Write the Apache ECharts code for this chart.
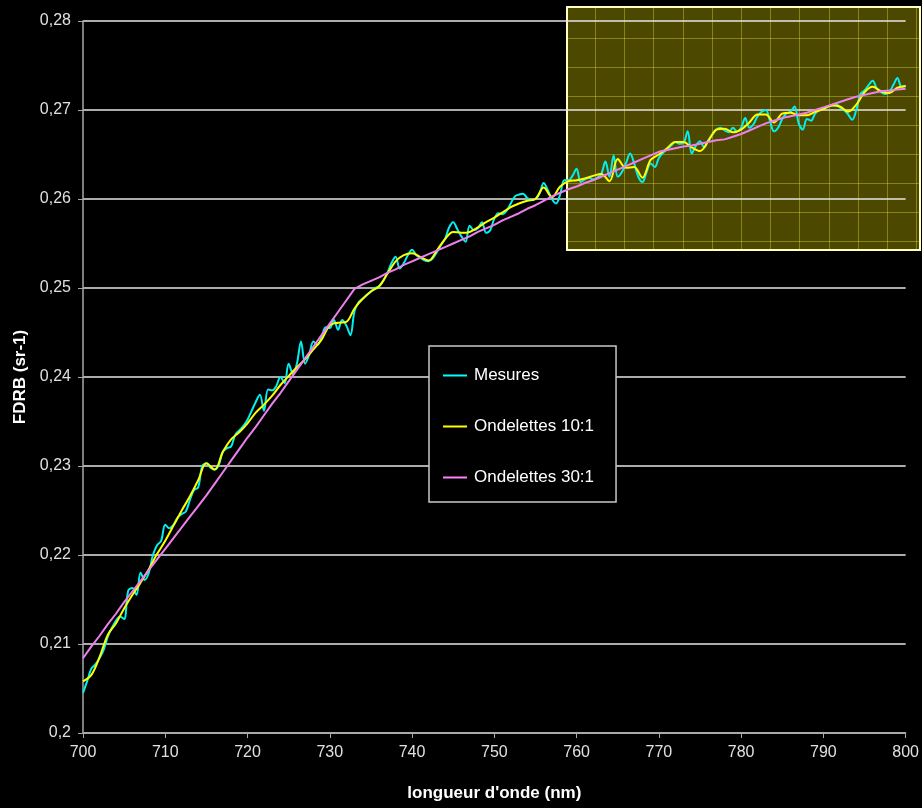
<!DOCTYPE html>
<html>
<head>
<meta charset="utf-8">
<script src="https://cdn.jsdelivr.net/npm/echarts@6/dist/echarts.min.js"></script>
<style>
html,body{margin:0;padding:0;background:#000;}
#c{width:922px;height:808px;}
</style>
</head>
<body>
<div id="c"></div>
<script>
// ---- Data ----
const seriesNames = ['Mesures', 'Ondelettes 10:1', 'Ondelettes 30:1'];
const xTicks = [700, 710, 720, 730, 740, 750, 760, 770, 780, 790, 800];
const yTicks = [0.20, 0.21, 0.22, 0.23, 0.24, 0.25, 0.26, 0.27, 0.28];

// wavelengths (nm) for Mesures: 700 .. 800 step 0.5
const wlMesures = [];
for (let i = 0; i <= 200; i++) wlMesures.push(700 + i * 0.5);
const mesures = [
0.2045,0.2058,0.2072,0.2077,0.2084,0.2093,0.2108,0.2118,0.2126,0.2131,
0.2128,0.2160,0.2163,0.2155,0.2180,0.2172,0.2180,0.2200,0.2211,0.2216,
0.2234,0.2230,0.2234,0.2242,0.2246,0.2249,0.2262,0.2273,0.2276,0.2300,
0.2303,0.2298,0.2296,0.2301,0.2316,0.2320,0.2322,0.2335,0.2340,0.2345,
0.2352,0.2362,0.2372,0.2380,0.2362,0.2386,0.2385,0.2390,0.2400,0.2393,
0.2415,0.2404,0.2415,0.2440,0.2415,0.2425,0.2440,0.2436,0.2445,0.2456,
0.2455,0.2464,0.2453,0.2464,0.2458,0.2447,0.2474,0.2484,0.2488,0.2492,
0.2496,0.2500,0.2502,0.2508,0.2517,0.2528,0.2535,0.2522,0.2528,0.2537,
0.2543,0.2537,0.2534,0.2531,0.2530,0.2533,0.2540,0.2548,0.2555,0.2568,
0.2574,0.2566,0.2558,0.2552,0.2570,0.2565,0.2567,0.2574,0.2562,0.2565,
0.2578,0.2584,0.2583,0.2587,0.2595,0.2603,0.2605,0.2606,0.2601,0.2599,
0.2600,0.2606,0.2618,0.2610,0.2600,0.2595,0.2605,0.2621,0.2621,0.2626,
0.2634,0.2619,0.2622,0.2624,0.2622,0.2624,0.2628,0.2642,0.2625,0.2649,
0.2625,0.2630,0.2640,0.2651,0.2640,0.2625,0.2619,0.2630,0.2640,0.2636,
0.2646,0.2652,0.2656,0.2660,0.2664,0.2662,0.2663,0.2676,0.2651,0.2660,
0.2665,0.2658,0.2666,0.2672,0.2678,0.2680,0.2677,0.2675,0.2680,0.2676,
0.2680,0.2691,0.2680,0.2684,0.2693,0.2698,0.2700,0.2688,0.2676,0.2680,
0.2690,0.2696,0.2698,0.2704,0.2685,0.2678,0.2690,0.2688,0.2696,0.2700,
0.2702,0.2704,0.2705,0.2707,0.2703,0.2700,0.2695,0.2689,0.2700,0.2718,
0.2722,0.2728,0.2733,0.2724,0.2720,0.2718,0.2720,0.2728,0.2736,0.2726,
0.2727
];

// wavelengths (nm) for wavelet series: 700 .. 800 step 1
const wlOnd = [];
for (let i = 0; i <= 100; i++) wlOnd.push(700 + i);
const ond10 = [
0.2058,0.2065,0.2085,0.2110,0.2123,0.2140,0.2155,0.2169,0.2184,0.2201,
0.2216,0.2233,0.2250,0.2266,0.2284,0.2303,0.2296,0.2316,0.2330,0.2338,
0.2348,0.2360,0.2369,0.2379,0.2391,0.2401,0.2411,0.2420,0.2431,0.2442,
0.2458,0.2461,0.2462,0.2477,0.2488,0.2496,0.2502,0.2516,0.2530,0.2537,
0.2539,0.2535,0.2531,0.2542,0.2555,0.2563,0.2562,0.2563,0.2568,0.2574,
0.2579,0.2585,0.2591,0.2595,0.2598,0.2600,0.2613,0.2602,0.2614,0.2620,
0.2621,0.2623,0.2626,0.2628,0.2620,0.2645,0.2635,0.2636,0.2624,0.2644,
0.2650,0.2657,0.2664,0.2664,0.2658,0.2654,0.2665,0.2678,0.2679,0.2675,
0.2678,0.2686,0.2695,0.2695,0.2686,0.2696,0.2697,0.2694,0.2694,0.2698,
0.2701,0.2705,0.2704,0.2698,0.2706,0.2720,0.2726,0.2721,0.2719,0.2725,
0.2727
];
const ond30 = [
0.2084,0.2097,0.2109,0.2122,0.2134,0.2147,0.2159,0.2171,0.2183,0.2195,
0.2207,0.2219,0.2231,0.2243,0.2255,0.2267,0.2280,0.2293,0.2306,0.2319,
0.2332,0.2344,0.2357,0.2370,0.2382,0.2395,0.2408,0.2421,0.2434,0.2447,
0.2460,0.2473,0.2486,0.2499,0.2504,0.2508,0.2512,0.2517,0.2521,0.2526,
0.2530,0.2534,0.2538,0.2542,0.2546,0.2550,0.2554,0.2558,0.2563,0.2567,
0.2571,0.2576,0.2580,0.2584,0.2589,0.2593,0.2598,0.2603,0.2607,0.2611,
0.2614,0.2618,0.2621,0.2625,0.2629,0.2633,0.2637,0.2641,0.2645,0.2649,
0.2653,0.2655,0.2657,0.2659,0.2660,0.2662,0.2664,0.2666,0.2667,0.2670,
0.2673,0.2677,0.2681,0.2685,0.2688,0.2691,0.2693,0.2695,0.2697,0.2700,
0.2703,0.2706,0.2709,0.2712,0.2715,0.2717,0.2719,0.2721,0.2722,0.2723,
0.2724
];

// ---- Chart ----
const FONT = '"Liberation Sans", Arial, sans-serif';
const chart = echarts.init(document.getElementById('c'), null, {renderer: 'canvas'});

function pairs(xs, ys) { return xs.map((x, i) => [x, ys[i]]); }
const fmtY = v => v.toFixed(2).replace(/0$/, '').replace('.', ',');

// decorative highlighted box (top right)
const box = {x: 567, y: 7, w: 353, h: 243};
const boxChildren = [{
  type: 'rect',
  shape: {x: box.x, y: box.y, width: box.w, height: box.h},
  style: {fill: 'rgba(255,238,0,0.30)', stroke: null}
}];
for (let gx = 595; gx < box.x + box.w; gx += 29.2) {
  boxChildren.push({type: 'line', shape: {x1: Math.round(gx) + 0.5, y1: box.y, x2: Math.round(gx) + 0.5, y2: box.y + box.h},
    style: {stroke: 'rgba(255,255,60,0.33)', lineWidth: 1}});
}
for (let gy = 38; gy < box.y + box.h; gy += 29) {
  boxChildren.push({type: 'line', shape: {x1: box.x, y1: Math.round(gy) + 0.5, x2: box.x + box.w, y2: Math.round(gy) + 0.5},
    style: {stroke: 'rgba(255,255,60,0.33)', lineWidth: 1}});
}
boxChildren.push({
  type: 'rect',
  shape: {x: box.x, y: box.y, width: box.w, height: box.h},
  style: {fill: null, stroke: '#ffffc0', lineWidth: 2}
});

const option = {
  backgroundColor: '#000000',
  animation: false,
  grid: {left: 83, right: 15, top: 21, bottom: 75, containLabel: false},
  legend: {
    data: seriesNames,
    orient: 'vertical',
    left: 429, top: 346,
    padding: [21, 22, 16, 14],
    itemGap: 34,
    itemWidth: 24, itemHeight: 14,
    icon: 'path://M0,6 L24,6 L24,8 L0,8 Z',
    backgroundColor: '#000000',
    borderColor: '#c8c8c8', borderWidth: 1.5,
    textStyle: {color: '#ffffff', fontSize: 17, fontFamily: FONT, padding: [0, 0, 0, 2]}
  },
  xAxis: {
    type: 'value', min: 700, max: 800, interval: 10,
    name: "longueur d'onde (nm)", nameLocation: 'middle', nameGap: 52,
    nameTextStyle: {color: '#ffffff', fontSize: 17, fontWeight: 'bold', fontFamily: FONT},
    axisLine: {lineStyle: {color: '#a8a8a8', width: 1.5}},
    axisTick: {show: true, length: 5, lineStyle: {color: '#a8a8a8'}},
    axisLabel: {color: '#e0e0e0', fontSize: 16, fontFamily: FONT, margin: 12,
      formatter: v => xTicks.includes(v) ? String(v) : ''},
    splitLine: {show: false}
  },
  yAxis: {
    type: 'value', min: 0.20, max: 0.28, interval: 0.01,
    name: 'FDRB (sr-1)', nameLocation: 'middle', nameGap: 53, nameRotate: 90,
    nameTextStyle: {color: '#ffffff', fontSize: 17, fontWeight: 'bold', fontFamily: FONT},
    axisLine: {show: true, lineStyle: {color: '#a8a8a8', width: 1.5}},
    axisTick: {show: true, length: 5, lineStyle: {color: '#a8a8a8'}},
    axisLabel: {color: '#e0e0e0', fontSize: 16, fontFamily: FONT, margin: 12,
      formatter: v => fmtY(v)},
    splitLine: {show: true, lineStyle: {color: '#e6e6e6', width: 1.5}}
  },
  series: [
    {name: seriesNames[0], type: 'line', data: pairs(wlMesures, mesures), showSymbol: false,
      smooth: 0.35, lineStyle: {color: '#00f0f0', width: 2}, itemStyle: {color: '#00ffff'}, z: 2},
    {name: seriesNames[1], type: 'line', data: pairs(wlOnd, ond10), showSymbol: false,
      smooth: 0.35, lineStyle: {color: '#ffff00', width: 2}, itemStyle: {color: '#ffff00'}, z: 3},
    {name: seriesNames[2], type: 'line', data: pairs(wlOnd, ond30), showSymbol: false,
      lineStyle: {color: '#ee80ee', width: 2}, itemStyle: {color: '#ff80ff'}, z: 4}
  ],
  graphic: [{type: 'group', z: 100, children: boxChildren}]
};
chart.setOption(option);
</script>
</body>
</html>
